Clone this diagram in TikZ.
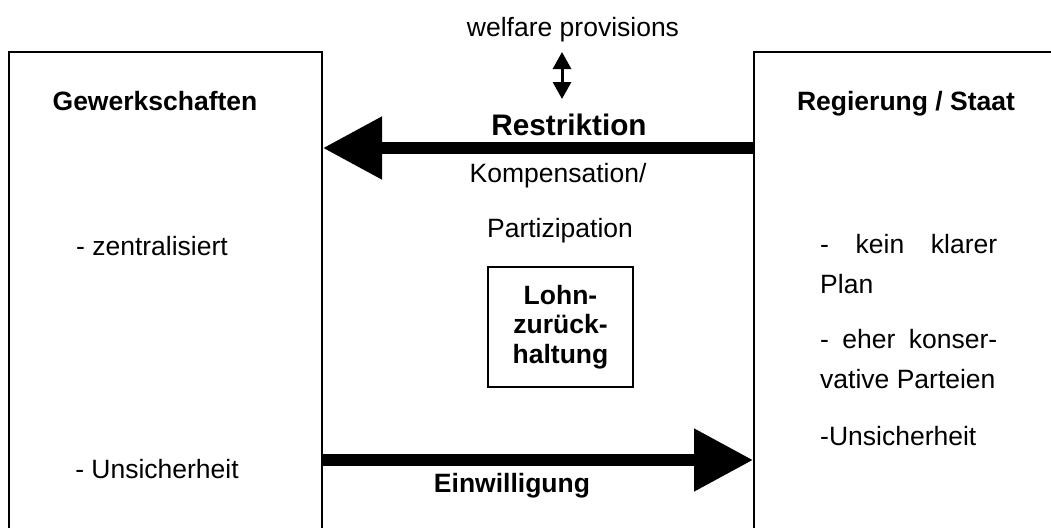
\documentclass[tikz,border=0pt]{standalone}
\usepackage{fontspec}
\setmainfont{Liberation Sans}
\usetikzlibrary{arrows.meta}

\begin{document}
\begin{tikzpicture}[x=1pt,y=-1pt,
    txt/.style={anchor=base,inner sep=0pt,font=\fontsize{26.5}{40}\selectfont},
    head/.style={txt,font=\fontsize{26.5}{40}\selectfont\bfseries},
    side box/.style={draw,line width=2pt,anchor=north west,inner sep=0pt},
    fat arrow/.style={line width=11.5pt,-{Triangle[length=59pt,width=60pt]}},
    thin arrow/.style={line width=3pt,{Triangle[length=17pt,width=18pt]}-{Triangle[length=17pt,width=18pt]}}]

  \useasboundingbox (0,0) rectangle (1051,527);

  % the two actors, boxes open at the bottom
  \node[side box,minimum width=313pt,minimum height=530pt] (gew) at (8,51) {};
  \node[side box,minimum width=340pt,minimum height=530pt] (reg) at (753,51) {};

  \node[head] (gewname) at (155,110) {Gewerkschaften};
  \node[head] (regname) at (906,110) {Regierung / Staat};

  \node[txt] (zentral) at (152,255) {- zentralisiert};
  \node[txt] (unsichl) at (157,478) {- Unsicherheit};

  \node[txt,anchor=base west] (plan1) at (820,253) {\makebox[177pt][s]{- kein klarer}};
  \node[txt,anchor=base west] (plan2) at (820,293) {Plan};
  \node[txt,anchor=base west] (kons1) at (820,348) {\makebox[177pt][s]{- eher konser-}};
  \node[txt,anchor=base west] (kons2) at (820,388) {vative Parteien};
  \node[txt,anchor=base west] (unsichr) at (820,445) {-Unsicherheit};

  % middle
  \node[txt] (welfare) at (573,37) {welfare provisions};
  \node[head,font=\fontsize{29.7}{36}\selectfont\bfseries] (restr) at (569,135) {Restriktion};
  \node[txt] (komp) at (558,182) {Kompensation/};
  \node[txt] (part) at (560,237) {Partizipation};
  \node[draw,line width=2pt,minimum width=145pt,minimum height=120pt,align=center,
        font=\fontsize{26.5}{29.5}\selectfont\bfseries] (lohn) at (560.5,327) {Lohn-\\zurück-\\haltung};
  \node[head] (einw) at (512,492) {Einwilligung};

  % connectors
  \coordinate (top lane) at (0,148);
  \coordinate (low lane) at (0,460);
  \coordinate (wp top) at (562,52);
  \coordinate (wp bot) at (562,99);

  \draw[fat arrow] (reg.west |- top lane) -- (gew.east |- top lane);
  \draw[fat arrow] (gew.east |- low lane) -- (reg.west |- low lane);
  \draw[thin arrow] (wp top) -- (wp bot);
\end{tikzpicture}
\end{document}
